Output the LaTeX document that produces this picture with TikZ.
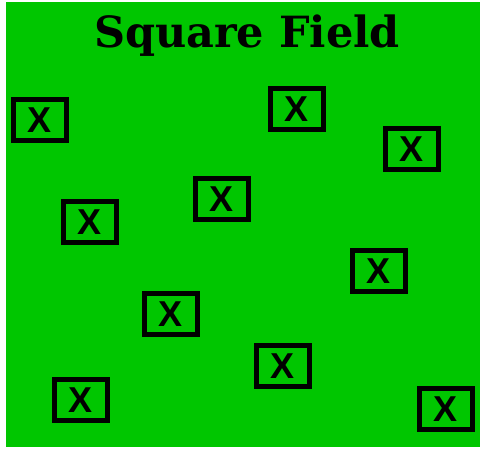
\documentclass[tikz,border=0pt]{standalone}
\usepackage{fontspec}
\usetikzlibrary{positioning}
\newfontfamily\titlefont{DejaVu Serif}
\newfontfamily\markfont{Liberation Sans}
\definecolor{grass}{RGB}{0,198,0}

\begin{document}
\begin{tikzpicture}[x=1pt, y=-1pt, every node/.style={align=center},
  box/.style={draw=black, line width=5pt, inner sep=0pt, minimum width=53pt, minimum height=41pt, font=\markfont\bfseries\fontsize{36}{36}\selectfont}]
\useasboundingbox (0,0) rectangle (483,449);
\fill[grass] (6,2) rectangle (480,447);
\node[anchor=base, font=\titlefont\bfseries\fontsize{43}{43}\selectfont] (title) at (247,48) {Square Field};
\node[box] (sq1) at (40,120) {X};
\node[box] (sq2) at (297,109) {X};
\node[box] (sq3) at (412,149) {X};
\node[box] (sq4) at (90,222) {X};
\node[box] (sq5) at (222,199) {X};
\node[box] (sq6) at (379,271) {X};
\node[box] (sq7) at (171,314) {X};
\node[box] (sq8) at (283,366) {X};
\node[box] (sq9) at (81,400) {X};
\node[box] (sq10) at (446,409) {X};
\end{tikzpicture}
\end{document}
